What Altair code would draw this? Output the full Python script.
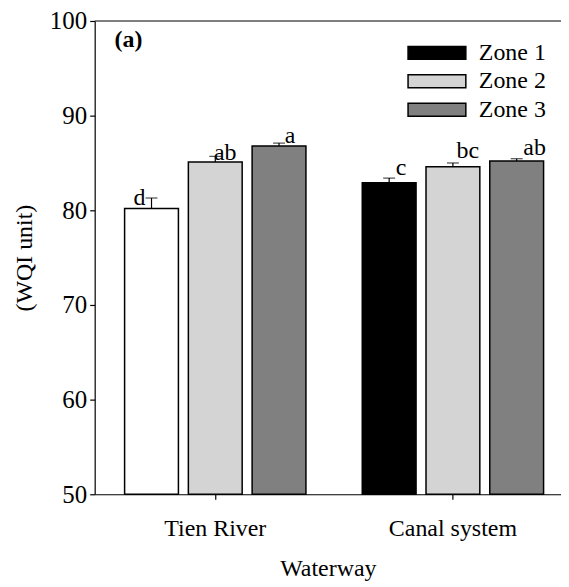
import altair as alt
import pandas as pd

# ---------------- data ----------------
waterways = ["Tien River", "Tien River", "Tien River",
             "Canal system", "Canal system", "Canal system"]
zones = ["Zone 1", "Zone 2", "Zone 3", "Zone 1", "Zone 2", "Zone 3"]
wqi_mean = [80.2, 85.1, 86.8, 82.9, 84.6, 85.2]
wqi_err = [1.1, 0.6, 0.3, 0.5, 0.4, 0.25]
letters = ["d", "ab", "a", "c", "bc", "ab"]

waterway_order = ["Tien River", "Canal system"]
zone_order = ["Zone 1", "Zone 2", "Zone 3"]
y_ticks = [50, 60, 70, 80, 90, 100]

df = pd.DataFrame({
    "idx": list(range(len(waterways))),
    "waterway": waterways,
    "zone": zones,
    "mean": wqi_mean,
    "err": wqi_err,
    "letter": letters,
})
df["upper"] = df["mean"] + df["err"]

# ---------------- styles ----------------
FONT = "Liberation Serif"
FS = 24
zone_colors = ["#000000", "#d3d4d3", "#808080"]
# pixel nudges for the significance letters (dx, dy)
letter_nudge = [(-12, 7), (10, 4), (11, 0), (12, -3), (15, -5), (18, -4)]

W, H = 468, 475

x_enc = alt.X(
    "waterway:N",
    sort=waterway_order,
    scale=alt.Scale(paddingInner=0.237, paddingOuter=0.0996, align=0.632),
    axis=alt.Axis(title="Waterway", labelAngle=0, tickSize=5, labelPadding=17,
                  titlePadding=17, domainColor="black", tickColor="black",
                  domainWidth=1.2, tickWidth=1.2,
                  labelFont=FONT, titleFont=FONT, labelFontSize=FS,
                  titleFontSize=FS, titleFontWeight="normal",
                  labelColor="black", titleColor="black"),
)
xo_enc = alt.XOffset("zone:N", sort=zone_order,
                     scale=alt.Scale(paddingInner=0.156, paddingOuter=0))
y_scale = alt.Scale(domain=[50, 100], zero=False, nice=False)

base = alt.Chart(df)

fill_enc = alt.when(
    (alt.datum.waterway == "Tien River") & (alt.datum.zone == "Zone 1")
).then(alt.value("white")).otherwise(
    alt.Fill(
        "zone:N",
        sort=zone_order,
        scale=alt.Scale(domain=zone_order, range=zone_colors),
        legend=alt.Legend(
            title=None, orient="none", legendX=331.5, legendY=20,
            symbolType="M-4.46,-1H4.46V1H-4.46Z", symbolSize=169,
            symbolStrokeColor="black", symbolStrokeWidth=1.5,
            symbolOpacity=1, labelFont=FONT, labelFontSize=FS,
            labelColor="black", labelOffset=30, rowPadding=4.5, padding=0,
        ),
    )
)

bars = base.mark_bar(stroke="black", strokeWidth=1.5, opacity=1).encode(
    x=x_enc,
    xOffset=xo_enc,
    y=alt.Y("mean:Q", scale=y_scale,
            axis=alt.Axis(title="(WQI unit)", values=y_ticks, grid=False,
                          tickSize=5, labelPadding=3, titlePadding=13,
                          domainColor="black", tickColor="black",
                          domainWidth=1.2, tickWidth=1.2,
                          labelFont=FONT, titleFont=FONT, labelFontSize=25,
                          titleFontSize=FS, titleFontWeight="normal",
                          labelColor="black", titleColor="black")),
    y2=alt.datum(50),
    fill=fill_enc,
)

err_rule = base.mark_rule(color="black", strokeWidth=1.2).encode(
    x=x_enc, xOffset=xo_enc, y="mean:Q", y2="upper:Q"
)
err_cap = base.mark_tick(color="black", size=12, thickness=1.2).encode(
    x=x_enc, xOffset=xo_enc, y="upper:Q"
)

text_layers = []
for i, (dx, dy) in enumerate(letter_nudge):
    text_layers.append(
        base.transform_filter(alt.datum.idx == i).mark_text(
            font=FONT, fontSize=FS, color="black", align="center",
            baseline="alphabetic", dx=dx, dy=dy
        ).encode(x=x_enc, xOffset=xo_enc, y="upper:Q", text="letter:N")
    )

top_line = alt.Chart(pd.DataFrame({"v": [100]})).mark_rule(
    color="black", strokeWidth=1.2
).encode(y=alt.Y("v:Q", scale=y_scale))

panel_tag = alt.Chart(pd.DataFrame({"t": ["(a)"]})).mark_text(
    font=FONT, fontSize=FS, fontWeight="bold", color="black",
    align="left", baseline="alphabetic"
).encode(x=alt.value(20), y=alt.value(26), text="t:N")

chart = alt.layer(bars, err_rule, err_cap, *text_layers, top_line, panel_tag).properties(
    width=W, height=H,
    autosize=alt.AutoSizeParams(type="none"),
    padding={"left": 87, "top": 12, "right": 0, "bottom": 86},
).configure_view(stroke=None).configure_axis(
    labelFont=FONT, titleFont=FONT, labelFontSize=FS, titleFontSize=FS,
    titleFontWeight="normal", labelColor="black", titleColor="black"
).configure_legend(labelFont=FONT).configure_text(font=FONT)

chart.save("out.html", embed_options={"renderer": "svg", "actions": False})
